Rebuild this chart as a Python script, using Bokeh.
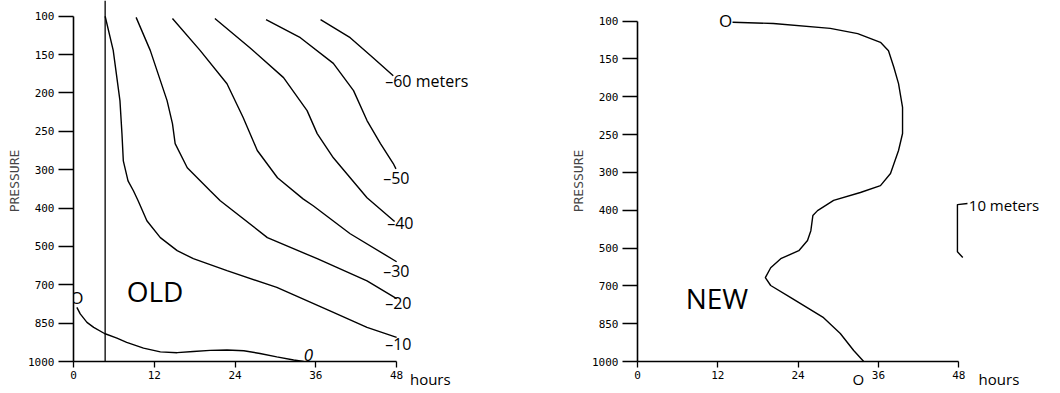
from bokeh.plotting import figure
from bokeh.layouts import row
from bokeh.models import Range1d, FixedTicker, Span, Label, LinearAxis
from bokeh.embed import file_html
from bokeh.resources import INLINE

# ---------------- data ----------------
pressure_labels = ["100", "150", "200", "250", "300", "400", "500", "700", "850", "1000"]
hour_ticks = [0, 12, 24, 36, 48]
reference_hour = 4.7

# OLD panel: contours of height change (hours vs. position on pressure axis, 0=100 ... 9=1000)
old_0_hours = [0.5, 1.0, 2.0, 3.0, 4.6, 6.45, 7.9, 10.4, 12.9, 15.4, 17.8, 20.3, 22.8, 25.3, 27.7, 30.2, 32.7, 34.2]
old_0_level = [7.59, 7.76, 7.98, 8.11, 8.27, 8.39, 8.50, 8.65, 8.75, 8.77, 8.74, 8.71, 8.70, 8.72, 8.79, 8.88, 8.96, 9.0]

old_10_hours = [4.7, 5.9, 6.9, 7.2, 7.4, 8.1, 8.9, 9.6, 10.9, 12.9, 15.4, 17.8, 22.8, 30.2, 38.1, 43.6, 48.0]
old_10_level = [0.0, 0.89, 2.2, 3.07, 3.77, 4.29, 4.55, 4.81, 5.33, 5.77, 6.11, 6.32, 6.63, 7.07, 7.68, 8.11, 8.37]

old_20_hours = [9.3, 11.4, 13.9, 14.7, 15.1, 16.9, 20.3, 21.8, 28.8, 36.2, 43.6, 48.0]
old_20_level = [0.03, 0.89, 2.2, 2.8, 3.32, 3.95, 4.55, 4.81, 5.77, 6.32, 6.9, 7.36]

old_30_hours = [14.7, 18.8, 22.8, 25.2, 27.3, 30.3, 34.1, 35.6, 41.1, 48.0]
old_30_level = [0.06, 0.89, 1.76, 2.64, 3.5, 4.21, 4.76, 4.94, 5.67, 6.40]

old_40_hours = [21.0, 26.2, 31.2, 34.7, 36.2, 38.6, 43.6, 47.7]
old_40_level = [0.06, 0.82, 1.6, 2.46, 3.06, 3.69, 4.73, 5.35]

old_50_hours = [28.6, 33.7, 38.6, 41.6, 43.6, 45.6, 47.5, 47.9]
old_50_level = [0.09, 0.56, 1.23, 1.94, 2.72, 3.32, 3.84, 3.98]

old_60_hours = [36.7, 41.1, 44.5, 47.5]
old_60_level = [0.09, 0.56, 1.08, 1.55]

# NEW panel: single 0-contour
new_hours = [14.2, 20.3, 28.8, 32.9, 36.3, 37.5, 38.3, 39.0, 39.6, 39.6, 39.0, 37.8, 36.3, 33.3, 29.3,
             26.9, 26.2, 25.9, 25.4, 24.1, 21.4, 19.9, 19.1, 19.9, 22.9, 27.8, 30.3, 32.3, 33.8]
new_level = [0.03, 0.06, 0.19, 0.33, 0.56, 0.78, 1.22, 1.65, 2.28, 2.97, 3.42, 4.03, 4.35, 4.53, 4.74,
             5.01, 5.14, 5.54, 5.80, 6.07, 6.28, 6.52, 6.78, 6.99, 7.31, 7.84, 8.26, 8.71, 9.0]

# 10-meter scale bracket (NEW panel)
scale_hours = [49.3, 47.8, 47.8, 48.6]
scale_level = [4.82, 4.85, 6.1, 6.25]

INK = "black"
TICK_FONT = "DejaVu Sans Mono"
HAND_FONT = "Open Sans"
FIG_H = 392


def make_panel(width, border_left, x_end, y_top, under_labels):
    p = figure(width=width, height=FIG_H, x_range=Range1d(0, x_end), y_range=Range1d(9, y_top),
               output_backend="svg", toolbar_location=None,
               min_border_left=border_left, min_border_right=0,
               min_border_top=0, min_border_bottom=31)
    p.grid.visible = False
    p.outline_line_color = None
    xa = p.xaxis[0]
    ya = p.yaxis[0]
    xa.ticker = FixedTicker(ticks=hour_ticks)
    xa.bounds = (0, 48)
    ya.ticker = FixedTicker(ticks=list(range(len(pressure_labels))))
    ya.major_label_overrides = {i: s for i, s in enumerate(pressure_labels)}
    ya.bounds = (0, len(pressure_labels) - 1)
    ya.axis_label = "PRESSURE"
    ya.axis_label_text_font = TICK_FONT
    ya.axis_label_text_font_style = "normal"
    ya.axis_label_text_font_size = "13px"
    ya.axis_label_standoff = 3
    for ax in (xa, ya):
        ax.axis_line_color = INK
        ax.axis_line_width = 1.6
        ax.major_tick_line_color = INK
        ax.major_tick_line_width = 1.3
        ax.minor_tick_line_color = None
        ax.major_tick_in = 0
        ax.major_label_text_font = TICK_FONT
        ax.major_label_text_font_size = "11px"
        ax.major_label_text_color = INK
    ya.major_tick_out = 15
    ya.major_label_standoff = 4
    xa.major_tick_out = 6
    xa.major_label_standoff = 3

    # second row of handwritten notes under the time axis
    ax2 = LinearAxis(ticker=FixedTicker(ticks=list(under_labels.keys())),
                     major_label_overrides=under_labels,
                     axis_line_color=None, major_tick_line_color=None, minor_tick_line_color=None,
                     major_tick_out=0, major_tick_in=0, major_label_standoff=-13,
                     major_label_text_font=HAND_FONT, major_label_text_font_size="15px",
                     major_label_text_color=INK)
    p.add_layout(ax2, "below")
    return p


def hand(p, x, y, text, size="16px", align="left", style="normal"):
    p.add_layout(Label(x=x, y=y, text=text, text_font=HAND_FONT, text_font_size=size,
                       text_align=align, text_baseline="middle", text_color=INK,
                       text_font_style=style))


# ---------------- OLD ----------------
p1 = make_panel(520, 73, 66.4, -0.41, {53: "hours"})
p1.add_layout(Span(location=reference_hour, dimension="height", line_color=INK, line_width=1.3))
for hx, ly in [(old_0_hours, old_0_level), (old_10_hours, old_10_level), (old_20_hours, old_20_level),
               (old_30_hours, old_30_level), (old_40_hours, old_40_level), (old_50_hours, old_50_level),
               (old_60_hours, old_60_level)]:
    p1.line(hx, ly, line_color=INK, line_width=1.4)

hand(p1, 46.3, 1.70, "\u201360 meters")
hand(p1, 46.0, 4.21, "\u201350")
hand(p1, 46.6, 5.38, "\u201340")
hand(p1, 46.0, 6.63, "\u201330")
hand(p1, 46.3, 7.47, "\u201320")
hand(p1, 46.3, 8.54, "\u201310")
hand(p1, 0.5, 7.34, "O", size="17px", align="center")
hand(p1, 34.9, 8.84, "0", size="17px", align="center", style="italic")
hand(p1, 7.9, 7.16, "OLD", size="28px")

# ---------------- NEW ----------------
p2 = make_panel(538, 117, 62.9, -0.547, {33: "O", 54: "hours"})
p2.yaxis[0].axis_label_text_color = "#444444"
p2.line(new_hours, new_level, line_color=INK, line_width=1.4)
p2.line(scale_hours, scale_level, line_color=INK, line_width=1.4)
hand(p2, 13.15, -0.02, "O", size="17px", align="center")
hand(p2, 7.2, 7.33, "NEW", size="28px")
hand(p2, 49.5, 4.87, "10 meters", size="15px")

layout = row(p1, p2)
open("out.html", "w").write(file_html(layout, INLINE))
